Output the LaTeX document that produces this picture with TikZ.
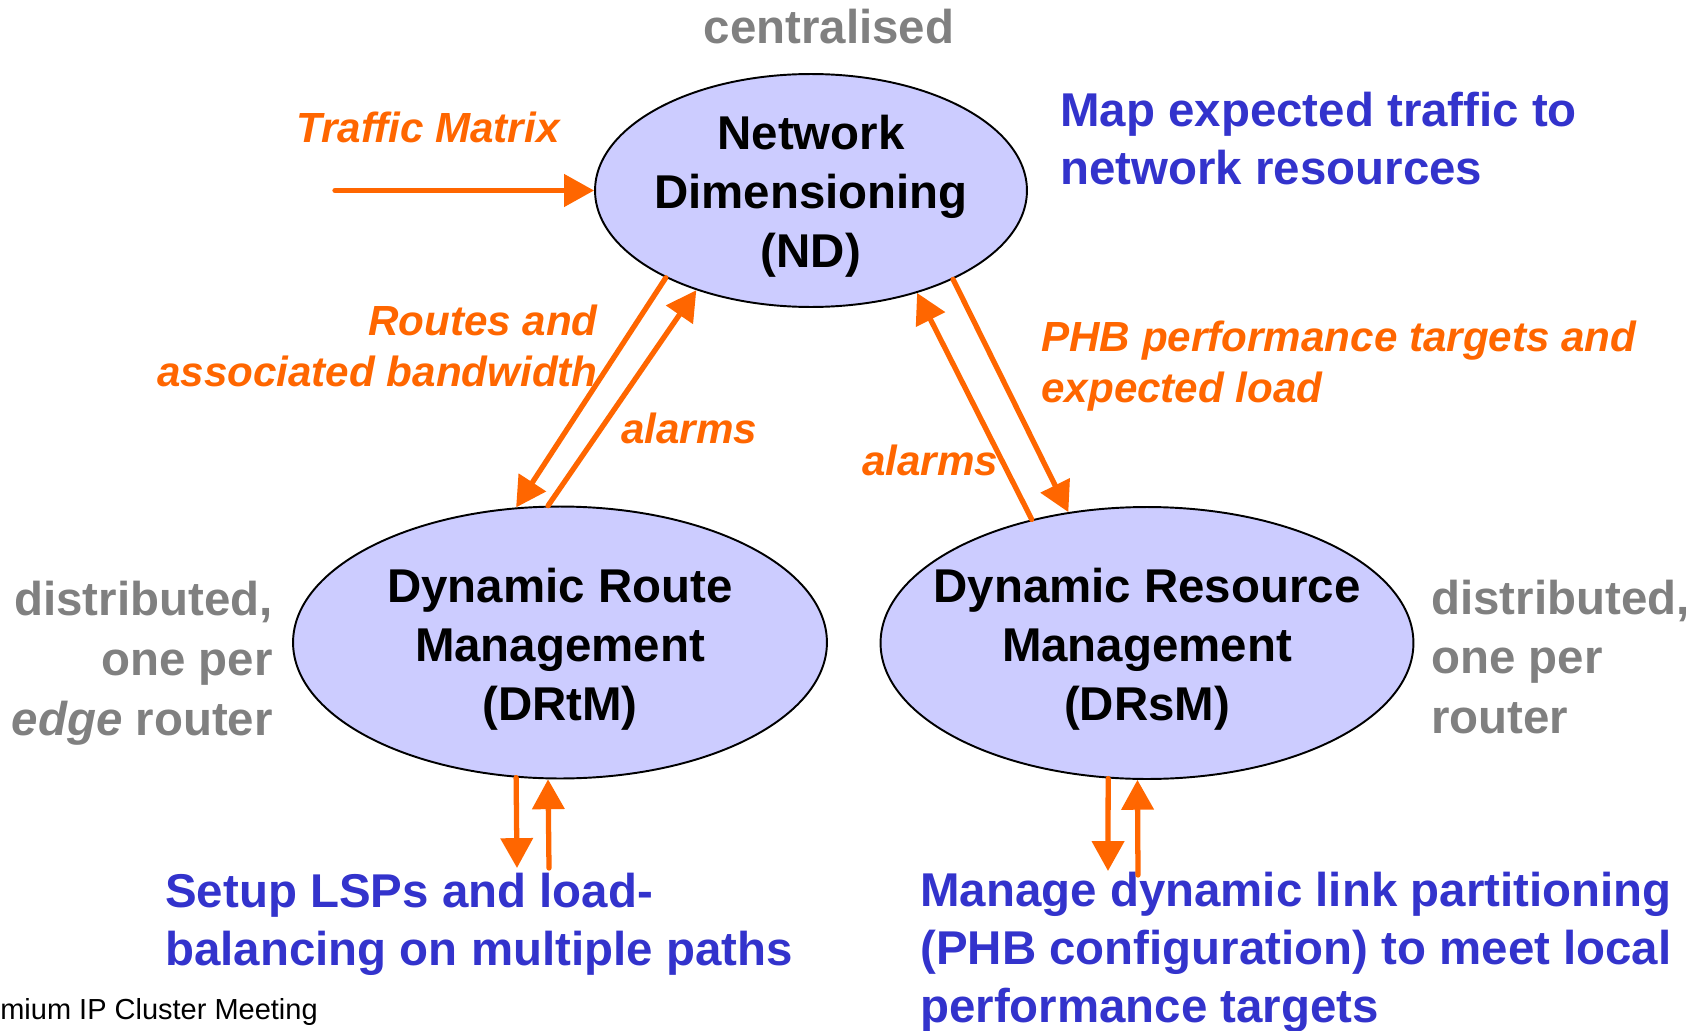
\documentclass[tikz,border=0pt]{standalone}
\usepackage{fontspec}
\setmainfont{Liberation Sans}
\usetikzlibrary{arrows.meta,shapes.geometric}
\definecolor{unitfill}{RGB}{204,204,255}
\definecolor{tmorange}{RGB}{255,102,0}
\definecolor{tmblue}{RGB}{51,51,204}
\definecolor{tmgray}{RGB}{128,128,128}
\tikzset{
  unit/.style={ellipse,draw=black,line width=1.1pt,fill=unitfill,inner sep=0pt},
  unittext/.style={align=center,font=\fontsize{27}{33.5}\selectfont\bfseries},
  flow/.style={-{Triangle[length=17pt,width=18pt]},line width=3pt,tmorange,line cap=round},
  olbl/.style={text=tmorange,font=\fontsize{24}{29}\selectfont\bfseries\itshape,inner sep=0pt},
  blbl/.style={text=tmblue,align=left,font=\fontsize{27}{33}\selectfont\bfseries,inner sep=0pt},
  glbl/.style={text=tmgray,font=\fontsize{27}{34}\selectfont\bfseries,inner sep=0pt}
}
\begin{document}
\begin{tikzpicture}[x=0.02cm,y=-0.02cm]
\useasboundingbox (0,0) rectangle (1705,1031);

\node (nd) at (811,190.5)[unit,minimum width=8.64cm,minimum height=4.66cm]{};
\node (drtm) at (560,642.5)[unit,minimum width=10.68cm,minimum height=5.44cm]{};
\node (drsm) at (1147,643)[unit,minimum width=10.66cm,minimum height=5.44cm]{};

\node (ndtext) at (811,196)[unittext]{Network\\Dimensioning\\(ND)};
\node (drtmtext) at (560,649)[unittext]{Dynamic Route\\Management\\(DRtM)};
\node (drsmtext) at (1147,649.5)[unittext]{Dynamic Resource\\Management\\(DRsM)};

\node (central) at (829,27)[glbl]{centralised};
\node (tm) at (296,127)[olbl,anchor=west]{Traffic Matrix};
\node (map) at (1060,138.5)[blbl,anchor=west]{Map expected traffic to\\network resources};
\node (routes) at (598,345.5)[olbl,anchor=east,align=right]{Routes and\\associated bandwidth};
\node (alarml) at (689,428)[olbl]{alarms};
\node (alarmr) at (930,460)[olbl]{alarms};
\node (phb) at (1041,366)[olbl,anchor=west,align=left]{PHB performance targets and\\expected load};
\node (distl) at (273,663)[glbl,anchor=east,align=right]{distributed,\\one per\\\textit{edge} router};
\node (distr) at (1431,657)[glbl,anchor=west,align=left]{distributed,\\one per\\router};
\node (setup) at (165,924)[blbl,anchor=west]{Setup LSPs and load-\\balancing on multiple paths};
\node (manage) at (920,952.5)[blbl,anchor=west]{Manage dynamic link partitioning\\(PHB configuration) to meet local\\performance targets};
\node (footer) at (0,1012)[anchor=west,inner sep=0pt,font=\fontsize{16.5}{20}\selectfont]{mium IP Cluster Meeting};

\coordinate (tmstart) at (335,190.5);
\draw[flow](tmstart) -- (nd.west);

\draw[flow](nd.211) -- (drtm.108);
\draw[flow](drtm.95) -- (nd.221);
\draw[flow](nd.328) -- (drsm.121);
\draw[flow](drsm.133) -- (nd.316);

\coordinate (rtout) at (517,868);
\coordinate (rtin) at (549,868);
\draw[flow](drtm.252) -- (rtout);
\draw[flow](rtin) -- (drtm.265);

\coordinate (rsout) at (1108,871);
\coordinate (rsin) at (1138,875);
\draw[flow](drsm.254) -- (rsout);
\draw[flow](rsin) -- (drsm.266);

\end{tikzpicture}
\end{document}
